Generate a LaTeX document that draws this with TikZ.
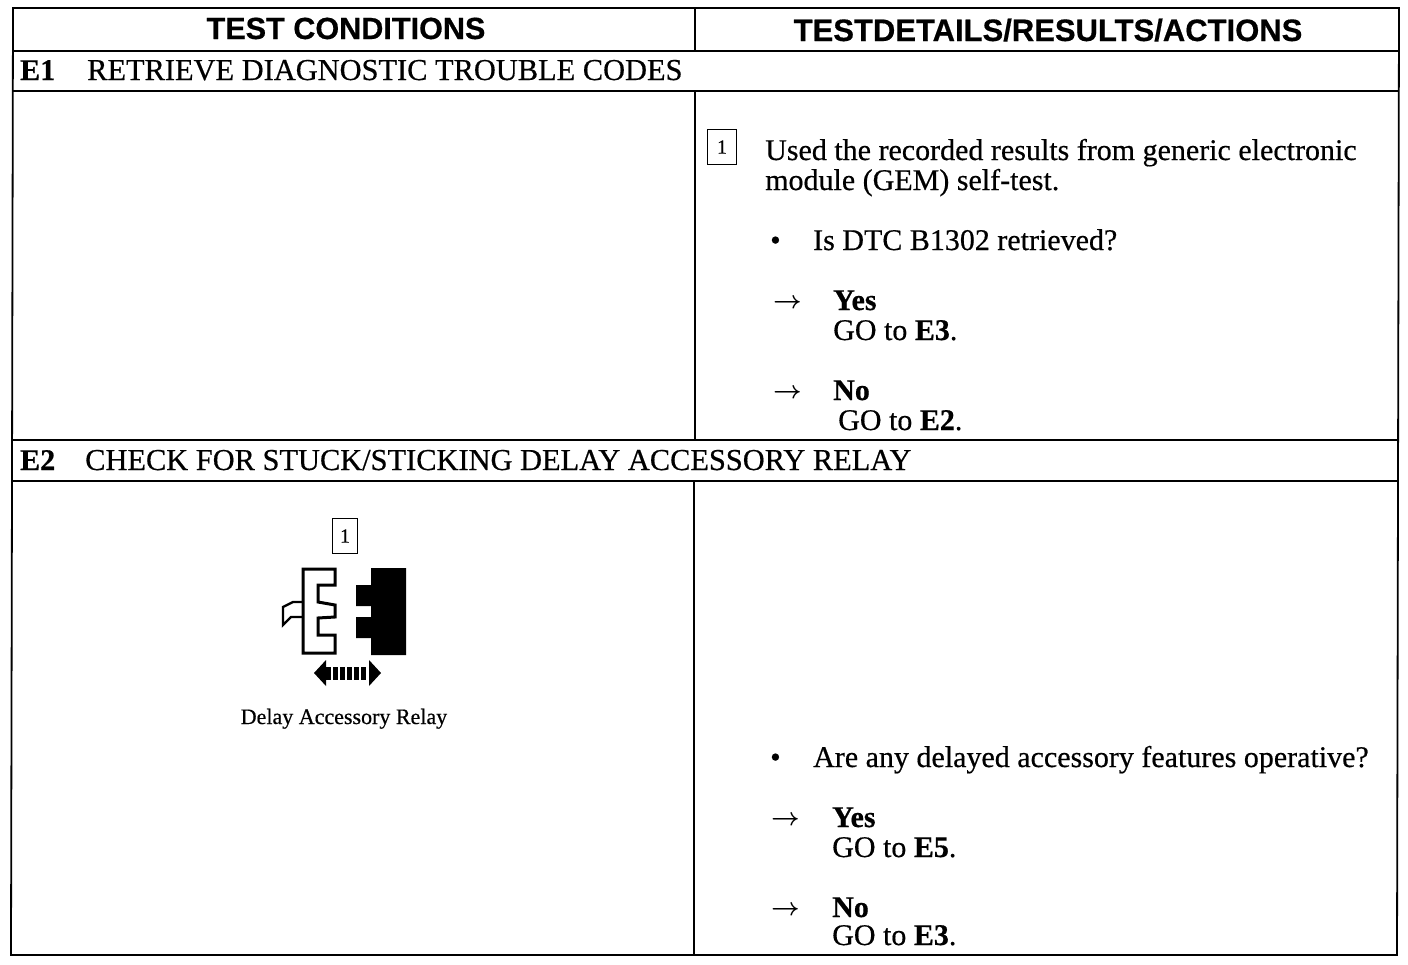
\documentclass[tikz,border=0pt]{standalone}
\usepackage{amsmath}
\usepackage{fontspec}
\setmainfont[FakeBold=0.5]{Liberation Serif}
\setsansfont[FakeBold=0.5]{Liberation Sans}
\usetikzlibrary{positioning}
\newcommand{\goarrow}{$\boldsymbol{\rightarrow}$}
\tikzset{
  x=1pt,
  y=-1pt,
  rule/.style={
    line width=1.8pt
  },
  header/.style={
    anchor=base,
    inner sep=0mm,
    font=\fontsize{30.6}{30}\sffamily\bfseries
  },
  body/.style={
    anchor=base west,
    inner sep=0mm,
    font=\fontsize{30}{30}\selectfont
  },
  title/.style={
    body,
    font=\fontsize{30.4}{30}\selectfont
  },
  step box/.style={
    draw,
    line width=1.6pt,
    inner sep=0mm,
    font=\fontsize{20}{20}\selectfont
  },
  caption/.style={
    anchor=base,
    inner sep=0mm,
    font=\fontsize{22}{22}\selectfont
  },
  relay/.style={
    line width=3pt,
    line join=miter
  }
}
\begin{document}
\begin{tikzpicture}
\useasboundingbox (0,0) rectangle (1408,964);
% table frame
\draw[rule] (13,8) -- (1399,8) -- (1397,955) -- (11,955) -- cycle;
\draw[rule] (13,51) -- (1399,51);
\draw[rule] (13,91) -- (1399,91);
\draw[rule] (12,440) -- (1398,440);
\draw[rule] (12,481) -- (1398,481);
\draw[rule] (695,8) -- (695,51);
\draw[rule] (695,91) -- (695,440);
\draw[rule] (694,481) -- (694,955);
% header row
\node[header] (cond) at (346,39) {TEST CONDITIONS};
\node[header,font=\fontsize{31}{30}\sffamily\bfseries] (res) at (1048,41) {TESTDETAILS/RESULTS/ACTIONS};
% E1
\node[body] (e1) at (20,80) {\textbf{E1}};
\node[title] (e1t) at (87,80) {RETRIEVE DIAGNOSTIC TROUBLE CODES};
\node[step box,minimum width=29pt,minimum height=35pt] (s1) at (722,147) {1};
\node[body] (e1a) at (765,160) {Used the recorded results from generic electronic};
\node[body] (e1b) at (765,190) {module (GEM) self-test.};
\node[body] (e1c) at (770,250) {•};
\node[body] (e1d) at (813,250) {Is DTC B1302 retrieved?};
\node[body] (e1e) at (773,308) {\goarrow};
\node[body] (e1f) at (833,310) {\textbf{Yes}};
\node[body] (e1g) at (833,340) {GO to \textbf{E3}.};
\node[body] (e1h) at (773,398) {\goarrow};
\node[body] (e1i) at (833,400) {\textbf{No}};
\node[body] (e1j) at (838,430) {GO to \textbf{E2}.};
% E2
\node[body] (e2) at (20,470) {\textbf{E2}};
\node[title] (e2t) at (85,470) {CHECK FOR STUCK/STICKING DELAY ACCESSORY RELAY};
\node[step box,minimum width=25pt,minimum height=35pt] (s2) at (345,536) {1};
% relay connector
\draw[relay,fill=white] (303,569) -- (335,569) -- (335,585) -- (318,585) -- (318,602)
  -- (335,605) -- (335,617) -- (318,618) -- (318,635) -- (335,635) -- (335,653)
  -- (303,653) -- cycle;
\draw[relay,line width=2.4pt] (303,602) -- (293,602) -- (283,607) -- (283,625) -- (291,617) -- (303,617);
\fill (371,568) -- (406,568) -- (406,655) -- (371,655) -- (371,638) -- (356,638) -- (356,617)
  -- (371,617) -- (371,606) -- (356,606) -- (356,585) -- (371,585) -- cycle;
\fill (314,673) -- (326,660) -- (326,686) -- cycle;
\fill (381,673) -- (369,660) -- (369,686) -- cycle;
\foreach \xpos in {326,333,340,347,354,361}
  \fill (\xpos,667) rectangle ++(5,13);
\node[caption] (cap) at (344,724) {Delay Accessory Relay};
\node[body] (e2a) at (770,767) {•};
\node[body] (e2b) at (813,767) {Are any delayed accessory features operative?};
\node[body] (e2c) at (771,825) {\goarrow};
\node[body] (e2d) at (832,827) {\textbf{Yes}};
\node[body] (e2e) at (832,857) {GO to \textbf{E5}.};
\node[body] (e2f) at (771,915) {\goarrow};
\node[body] (e2g) at (832,917) {\textbf{No}};
\node[body] (e2h) at (832,945) {GO to \textbf{E3}.};
\end{tikzpicture}
\end{document}
